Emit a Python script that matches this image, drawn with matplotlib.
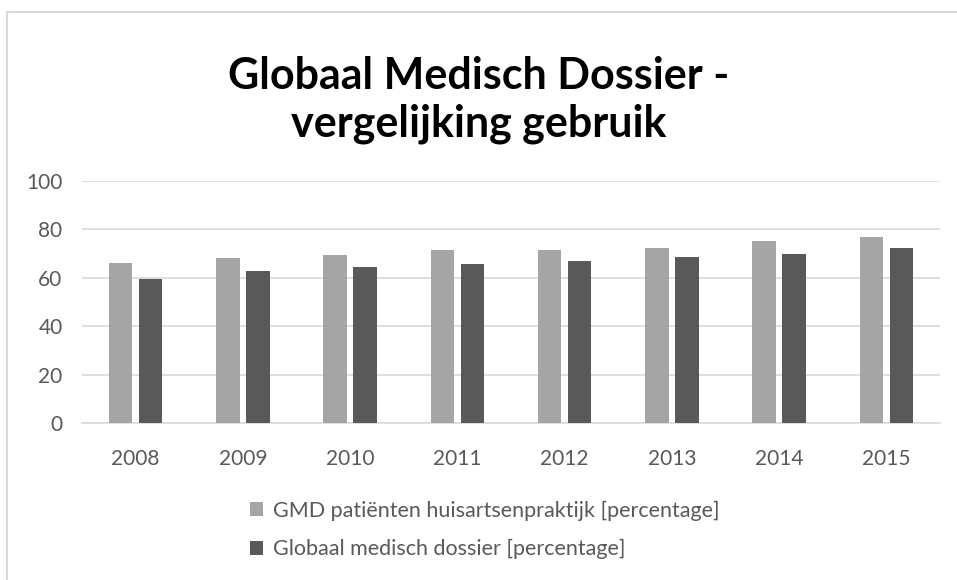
import numpy as np
import matplotlib.pyplot as plt
from matplotlib.lines import Line2D

years = ['2008', '2009', '2010', '2011', '2012', '2013', '2014', '2015']
gmd_patienten = [66, 68, 69.5, 71.5, 71.5, 72.5, 75, 77]
globaal_dossier = [59.5, 63, 64.5, 65.5, 67, 68.5, 70, 72.5]
series_names = ['GMD patiënten huisartsenpraktijk [percentage]',
                'Globaal medisch dossier [percentage]']
colors = ['#a5a5a5', '#595959']

plt.rcParams['font.family'] = ['Lato', 'DejaVu Sans']

fig = plt.figure(figsize=(9.57, 5.8), dpi=100)
W, H = 957, 580

# kader rond de grafiek (alleen links en boven zichtbaar)
fig.lines.append(Line2D([6.5 / W, 6.5 / W], [0, 1 - 11.5 / H], transform=fig.transFigure,
                        color='#d9d9d9', linewidth=1.5))
fig.lines.append(Line2D([6.5 / W, 1], [1 - 11.5 / H, 1 - 11.5 / H], transform=fig.transFigure,
                        color='#d9d9d9', linewidth=1.5))

ax = fig.add_axes([82 / W, 1 - 423 / H, 858 / W, 242 / H])

x = np.arange(len(years))
w = 0.22
off = 0.14
ax.bar(x - off, gmd_patienten, w, color=colors[0], label=series_names[0], zorder=3)
ax.bar(x + off, globaal_dossier, w, color=colors[1], label=series_names[1], zorder=3)

ax.set_xlim(-0.5, len(years) - 0.5)
ax.set_ylim(0, 100)
ax.set_yticks(range(0, 101, 20))
ax.set_xticks(x)
ax.set_xticklabels(years)
ax.yaxis.grid(True, color='#d9d9d9', linewidth=1.2, zorder=0)
for s in ['top', 'right', 'left']:
    ax.spines[s].set_visible(False)
ax.spines['bottom'].set_color('#d9d9d9')
ax.spines['bottom'].set_linewidth(1.2)
ax.tick_params(length=0, labelsize=15, labelcolor='#595959')
ax.tick_params(axis='x', pad=19)
ax.tick_params(axis='y', pad=14)

fig.text(0.5, 1 - 100 / H, 'Globaal Medisch Dossier -\nvergelijking gebruik',
         ha='center', va='center', fontsize=31, fontweight='bold',
         linespacing=1.2, color='black')

leg = fig.legend(loc='center left', bbox_to_anchor=(231 / W, 1 - 530 / H), ncol=1,
                 frameon=False, fontsize=15.5, handlelength=0.6, handleheight=0.6,
                 handletextpad=0.45, labelspacing=0.85, labelcolor='#595959')

fig.savefig('out.png', dpi=100)
